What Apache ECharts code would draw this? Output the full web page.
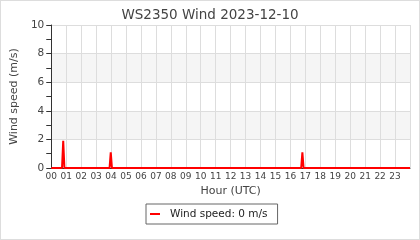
<!DOCTYPE html>
<html><head><meta charset="utf-8">
<script src="https://cdn.jsdelivr.net/npm/echarts@6/dist/echarts.min.js"></script>
<style>
html,body{margin:0;padding:0;background:#fff;}
#c{width:420px;height:240px;box-sizing:border-box;border:1px solid #ddd;}
</style></head><body>
<div id="c"></div>
<script>
// Hours (UTC, decimal) and wind speed readings (m/s)
var hours  = [0, 0.72, 0.8, 0.88, 3.9, 3.98, 4.06, 16.72, 16.8, 16.88, 24];
var speeds = [0, 0,    1.9, 0,    0,   1.1,  0,    0,     1.1,  0,     0];
var hourLabels = ['00','01','02','03','04','05','06','07','08','09','10','11','12','13','14','15','16','17','18','19','20','21','22','23'];
var titleText = 'WS2350 Wind 2023-12-10';
var legendName = 'Wind speed: 0 m/s';

var chart = echarts.init(document.getElementById('c'), null, {renderer:'canvas'});
var FONT = 'DejaVu Sans';
chart.setOption({
  animation:false,
  textStyle:{fontFamily:FONT},
  title:{text:titleText,left:'center',top:2,textStyle:{fontFamily:FONT,fontSize:13.5,fontWeight:'normal',color:'#444'}},
  grid:{left:49,right:9,top:24,bottom:71},
  legend:{
    left:145,top:203,
    data:[{name:legendName,icon:'rect'}],
    itemWidth:10,itemHeight:2,
    padding:[4,10,4,4],
    borderColor:'#666',borderWidth:1,
    textStyle:{fontFamily:FONT,fontSize:10.5,color:'#222',padding:[0,0,0,5],lineHeight:12}
  },
  xAxis:{
    type:'value',min:0,max:24,interval:1,
    name:'Hour (UTC)',nameLocation:'middle',nameGap:14,
    nameTextStyle:{fontFamily:FONT,fontSize:11,color:'#444'},
    axisLine:{show:true,lineStyle:{color:'#333',width:1}},
    axisTick:{show:false},
    axisLabel:{fontFamily:FONT,fontSize:9,color:'#444',margin:4,
      formatter:function(v){return v<24?hourLabels[v]:'';}},
    splitLine:{show:true,lineStyle:{color:'#ddd',width:1}}
  },
  yAxis:{
    type:'value',min:0,max:10,interval:2,
    name:'Wind speed (m/s)',nameLocation:'middle',nameGap:30,
    nameTextStyle:{fontFamily:FONT,fontSize:11,color:'#444'},
    axisLine:{show:true,lineStyle:{color:'#333',width:1}},
    axisTick:{show:true,length:5,lineStyle:{color:'#333'}},
    minorTick:{show:true,splitNumber:2,length:5,lineStyle:{color:'#333'}},
    axisLabel:{fontFamily:FONT,fontSize:10.5,color:'#444',margin:7},
    splitLine:{show:true,lineStyle:{color:'#ddd',width:1}},
    splitArea:{show:true,areaStyle:{color:['#ffffff','#f5f5f5']}}
  },
  series:[{
    name:legendName,type:'line',
    data:hours.map(function(h,i){return [h,speeds[i]];}),
    showSymbol:false,symbol:'none',
    lineStyle:{color:'#ff0000',width:2},
    itemStyle:{color:'#ff0000'}
  }]
});
</script>
</body></html>
